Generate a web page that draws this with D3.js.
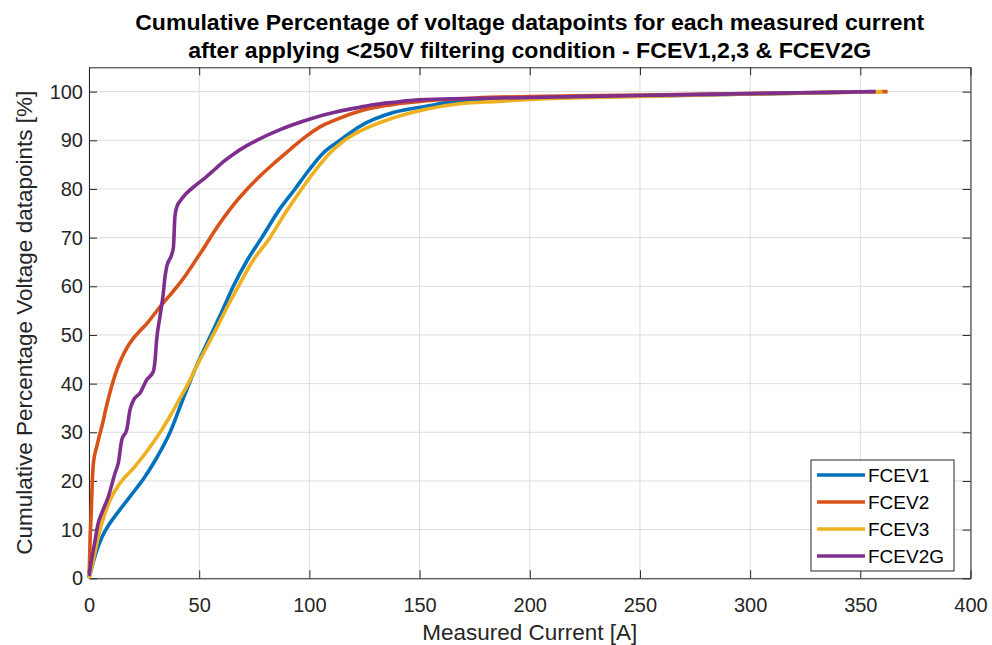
<!DOCTYPE html>
<html>
<head>
<meta charset="utf-8">
<script src="https://cdn.jsdelivr.net/npm/d3@7"></script>
<style>
  body { margin: 0; background: #fff; }
  svg { display: block; font-family: "Liberation Sans", Arial, sans-serif; }
</style>
</head>
<body>
<svg id="chart" width="992" height="645"></svg>
<script>
// values
const seriesNames = ["FCEV1", "FCEV2", "FCEV3", "FCEV2G"];
const seriesColors = ["#0072BD", "#D95319", "#EDB120", "#7E2F8E"];

const fcev1X = [0, 1, 3, 6, 9, 13, 18.6, 25, 30, 36.8, 42.8, 48.2, 52, 56.4, 61, 65.5, 72, 78.4, 86, 93.5, 100, 106.3, 113.9, 123, 138, 153, 168, 185, 200, 250, 300, 355];
const fcev1Y = [0, 1.8, 5, 8.6, 11, 13.5, 16.8, 20.6, 24.2, 30, 37, 43, 46.8, 51, 55.5, 60, 65.5, 70, 75.5, 80, 84, 87.4, 90, 92.9, 95.7, 97, 98.1, 98.5, 98.7, 99.1, 99.5, 100];

const fcev2X = [0, 0.2, 0.5, 1, 1.5, 2, 3.5, 5, 6, 8, 10, 12, 14.1, 17, 20.1, 23, 26.2, 30, 33.7, 37.5, 41.3, 44.5, 47.3, 53, 57.2, 61, 66, 71.6, 76.1, 84, 91.2, 98.8, 105, 112.4, 123, 129, 140, 150, 175, 200, 250, 300, 362.4];
const fcev2Y = [1, 2.5, 8, 13.4, 20, 23.7, 27, 29.8, 31.5, 35.5, 39, 42, 44.5, 47.2, 49.3, 50.8, 52.3, 54.5, 56.6, 58.6, 60.7, 62.7, 64.6, 68.5, 71.5, 74, 77, 79.9, 82, 85.3, 88.1, 90.9, 92.8, 94.3, 96, 96.7, 97.5, 98, 98.7, 99, 99.3, 99.6, 100];

const fcev3X = [0, 1.3, 3, 5, 7.3, 10, 14, 20.9, 28.5, 33, 37, 41.3, 45, 48.2, 52, 58, 63, 67.8, 74, 82.1, 89, 96.5, 103, 109.3, 116, 123, 138, 153, 168, 185, 200, 250, 300, 360];
const fcev3Y = [0, 2.4, 6, 10, 13.4, 16.5, 19.5, 23, 27.5, 30.5, 33.5, 37, 40, 43, 46.3, 51.5, 56, 60, 65, 70, 75, 80, 84, 87.4, 90, 91.9, 94.6, 96.4, 97.5, 98, 98.4, 99, 99.5, 100];

const fcev2gX = [0, 0.5, 2.8, 4, 5.8, 8.8, 11.8, 13.3, 14.9, 17.1, 18.6, 20.1, 23.2, 26.2, 29.2, 30, 30.7, 32.2, 33.7, 34.5, 35.3, 37.5, 38.3, 39, 40, 41.3, 44, 48.5, 52.7, 57, 61, 66, 71.6, 76.1, 86.7, 91.2, 101.8, 112, 123, 129, 138, 150, 200, 250, 300, 357];
const fcev2gY = [0.5, 2, 7.9, 11, 13.4, 16.8, 21.6, 23.7, 28.5, 30.5, 34.6, 36.5, 38.1, 40.8, 42.5, 44.9, 49, 53.8, 58.5, 62, 64.1, 66.5, 68, 74.4, 76.5, 77.5, 79, 80.8, 82.3, 84, 85.6, 87.3, 88.9, 90, 92.2, 93, 94.6, 95.8, 96.8, 97.3, 97.8, 98.3, 98.8, 99.2, 99.6, 100];

const xTicks = [0, 50, 100, 150, 200, 250, 300, 350, 400];
const yTicks = [0, 10, 20, 30, 40, 50, 60, 70, 80, 90, 100];

const titleLines = ["Cumulative Percentage of voltage datapoints for each measured current",
                    "after applying <250V filtering condition - FCEV1,2,3 & FCEV2G"];
const xLabel = "Measured Current [A]";
const yLabel = "Cumulative Percentage Voltage datapoints [%]";

const seriesX = [fcev1X, fcev2X, fcev3X, fcev2gX];
const seriesY = [fcev1Y, fcev2Y, fcev3Y, fcev2gY];
const series = seriesNames.map((name, i) => ({
  name: name,
  color: seriesColors[i],
  points: seriesX[i].map((x, j) => ({ x: x, y: seriesY[i][j] }))
}));

const svg = d3.select("#chart");
const plotLeft = 89, plotRight = 970.5, plotTop = 67.3, plotBottom = 578.3;
const axisColor = "#262626";

const x = d3.scaleLinear().domain([0, 400]).range([plotLeft, plotRight]);
const y = d3.scaleLinear().domain([0, 105]).range([plotBottom, plotTop]);

// grid
const grid = svg.append("g").attr("class", "grid");
grid.selectAll(".gx").data(xTicks).enter().append("line")
  .attr("x1", d => x(d)).attr("x2", d => x(d))
  .attr("y1", plotTop).attr("y2", plotBottom)
  .attr("stroke", "#dcdcdc").attr("stroke-width", 1);
grid.selectAll(".gy").data(yTicks).enter().append("line")
  .attr("x1", plotLeft).attr("x2", plotRight)
  .attr("y1", d => y(d)).attr("y2", d => y(d))
  .attr("stroke", "#dcdcdc").attr("stroke-width", 1);

// axes (ticks pointing inwards, box on)
const tickLen = 8;
const styleAxis = g => {
  g.select(".domain").attr("stroke", axisColor).attr("stroke-width", 1);
  g.selectAll(".tick line").attr("stroke", axisColor).attr("stroke-width", 1);
  g.selectAll(".tick text").attr("fill", axisColor)
    .style("font-size", "20px").style("font-family", "'Liberation Sans', Arial, sans-serif");
};

svg.append("g").attr("transform", `translate(0,${plotBottom})`)
  .call(d3.axisBottom(x).tickValues(xTicks).tickSizeInner(-tickLen).tickSizeOuter(0).tickPadding(20))
  .call(styleAxis);
svg.append("g").attr("transform", `translate(${plotLeft},0)`)
  .call(d3.axisLeft(y).tickValues(yTicks).tickSizeInner(-tickLen).tickSizeOuter(0).tickPadding(6))
  .call(styleAxis);
svg.append("g").attr("transform", `translate(0,${plotTop})`)
  .call(d3.axisTop(x).tickValues(xTicks).tickSizeInner(-tickLen).tickSizeOuter(0).tickFormat(""))
  .call(styleAxis);
svg.append("g").attr("transform", `translate(${plotRight},0)`)
  .call(d3.axisRight(y).tickValues(yTicks).tickSizeInner(-tickLen).tickSizeOuter(0).tickFormat(""))
  .call(styleAxis);

// lines
const line = d3.line().x(d => x(d.x)).y(d => y(d.y)).curve(d3.curveMonotoneX);
svg.append("g").selectAll("path").data(series).enter().append("path")
  .attr("d", d => line(d.points))
  .attr("fill", "none")
  .attr("stroke", d => d.color)
  .attr("stroke-width", 3.6)
  .attr("stroke-linejoin", "round");

// title
const titleWidths = [789, 683];
const title = svg.append("text").attr("text-anchor", "middle")
  .attr("font-weight", "bold").attr("font-size", 22).attr("fill", "#000");
title.selectAll("tspan").data(titleLines).enter().append("tspan")
  .attr("x", (plotLeft + plotRight) / 2)
  .attr("y", (d, i) => 30 + i * 28)
  .attr("textLength", (d, i) => titleWidths[i])
  .attr("lengthAdjust", "spacingAndGlyphs")
  .text(d => d);

// axis labels
svg.append("text").attr("x", (plotLeft + plotRight) / 2).attr("y", 640)
  .attr("text-anchor", "middle").attr("font-size", 22.5).attr("fill", axisColor)
  .text(xLabel);
svg.append("text")
  .attr("transform", `translate(31.5,${(plotTop + plotBottom) / 2}) rotate(-90)`)
  .attr("text-anchor", "middle").attr("font-size", 22.5).attr("fill", axisColor)
  .text(yLabel);

// legend
const legend = svg.append("g").attr("transform", "translate(811,460)");
legend.append("rect").attr("width", 143).attr("height", 111)
  .attr("fill", "#fff").attr("stroke", axisColor).attr("stroke-width", 1);
const item = legend.selectAll(".item").data(series).enter().append("g")
  .attr("transform", (d, i) => `translate(0,${15 + i * 27})`);
item.append("line").attr("x1", 6).attr("x2", 54)
  .attr("stroke", d => d.color).attr("stroke-width", 3.6);
item.append("text").attr("x", 57).attr("dy", "0.36em")
  .attr("font-size", 19).attr("fill", "#000")
  .text(d => d.name);
</script>
</body>
</html>
